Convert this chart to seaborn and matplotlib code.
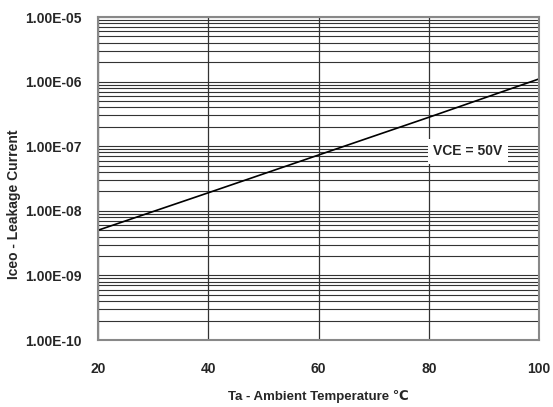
import matplotlib
matplotlib.use("Agg")
import matplotlib.pyplot as plt
import seaborn as sns
import numpy as np
import pandas as pd

temperature = [20, 40, 60, 80, 100]
leakage = [5.0e-9, 1.9e-8, 7.3e-8, 2.8e-7, 1.1e-6]
y_ticks = [1e-10, 1e-9, 1e-8, 1e-7, 1e-6, 1e-5]
y_tick_labels = ["1.00E-10", "1.00E-09", "1.00E-08", "1.00E-07", "1.00E-06", "1.00E-05"]
x_ticks = [20, 40, 60, 80, 100]

sns.set_theme(style="white")
plt.rcParams["font.family"] = ["Liberation Sans", "DejaVu Sans"]

df = pd.DataFrame({"Ta": temperature, "Iceo": leakage})

fig = plt.figure(figsize=(5.53, 4.07), dpi=100)
ax = fig.add_axes([98 / 553, 1 - 340 / 407, (539 - 98) / 553, (340 - 17) / 407])

sns.lineplot(data=df, x="Ta", y="Iceo", ax=ax, color="black", linewidth=1.2)
ax.set_yscale("log")
ax.set_xlim(20, 100)
ax.set_ylim(1e-10, 1e-5)

# grid: every minor decade step horizontally, every 20 degrees vertically
ax.yaxis.set_minor_locator(matplotlib.ticker.LogLocator(base=10, subs=np.arange(2, 10)))
ax.grid(True, which="major", axis="x", color="#333333", linewidth=0.9)
ax.grid(True, which="both", axis="y", color="#333333", linewidth=0.8)
ax.set_axisbelow(True)

ax.set_xticks(x_ticks)
ax.set_xticklabels([str(t) for t in x_ticks], fontsize=10, fontweight="bold")
ax.set_yticks(y_ticks)
ax.set_yticklabels(y_tick_labels, fontsize=10, fontweight="bold")
ax.tick_params(axis="y", which="minor", length=0)
ax.tick_params(axis="both", which="major", length=3, direction="out", color="#555555", pad=9)
ax.tick_params(axis="x", pad=13)

for s in ax.spines.values():
    s.set_color("#888888")
    s.set_linewidth(1.5)

ax.set_xlabel("Ta - Ambient Temperature ℃", fontsize=9.5, fontweight="bold", labelpad=10)
ax.set_ylabel("Iceo - Leakage Current", fontsize=10, fontweight="bold")
ax.yaxis.set_label_coords(-0.175, 0.42)

ax.text(87.1, 8.4e-8, "VCE = 50V", fontsize=10, fontweight="bold", ha="center", va="center",
        bbox=dict(facecolor="white", edgecolor="none", pad=4))

fig.savefig("out.png", dpi=100)
